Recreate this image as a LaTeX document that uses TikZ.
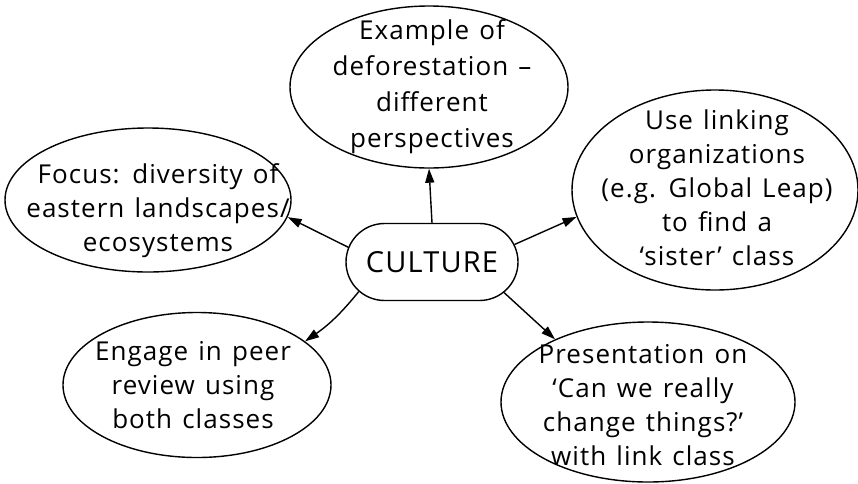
\documentclass[tikz,border=0pt]{standalone}
\usepackage{fontspec}
\setmainfont{Open Sans}[LetterSpace=4.0, WordSpace=1.3]
\usetikzlibrary{shapes.geometric,shapes.misc,arrows.meta}
\begin{document}
\begin{tikzpicture}[x=1pt,y=-1pt,
  bubble/.style={draw, line width=1.4pt, ellipse, inner sep=0pt},
  txt/.style={align=center, font=\fontsize{26}{34}\selectfont, inner sep=0pt},
  arr/.style={line width=1.4pt, -{Triangle[length=14pt,width=9pt]}}]
\useasboundingbox (0,0) rectangle (858,483);
% bubbles
\node[bubble, minimum width=278pt, minimum height=162pt] (top) at (429,87) {};
\node[bubble, minimum width=286pt, minimum height=144pt] (focus) at (148,200) {};
\node[bubble, minimum width=286pt, minimum height=200pt] (link) at (715,190) {};
\node[bubble, minimum width=268pt, minimum height=145pt] (engage) at (197,385) {};
\node[bubble, minimum width=294pt, minimum height=160pt] (pres) at (648,402) {};
\node[draw, line width=1.4pt, rounded rectangle, minimum width=172pt, minimum height=77pt, inner sep=0pt] (cul) at (432,262) {};
% texts
\node[txt, font=\fontsize{26}{36}\selectfont] (topt) at (432,87) {Example of\\deforestation –\\different\\perspectives};
\node[txt] (focust) at (158,211) {Focus: diversity of\\eastern landscapes/\\ecosystems};
\node[txt] (linkt) at (717,188) {Use linking\\organizations\\(e.g. Global Leap)\\to find a\\‘sister’ class};
\node[txt] (engaget) at (193,385) {Engage in peer\\review using\\both classes};
\node[txt] (prest) at (643,405) {Presentation on\\‘Can we really\\change things?’\\with link class};
\node[txt, font=\fontsize{29}{32}\selectfont] (cult) at (432,262) {CULTURE};
% connectors
\draw[arr] (cul.north) -- (top.south);
\draw[arr] (cul.170) -- (focus.-7);
\draw[arr] (cul.12) -- (link.191);
\draw[arr] (cul.-158) to[bend left=8] (engage.22);
\draw[arr] (cul.-23) -- (pres.146);
\end{tikzpicture}
\end{document}
